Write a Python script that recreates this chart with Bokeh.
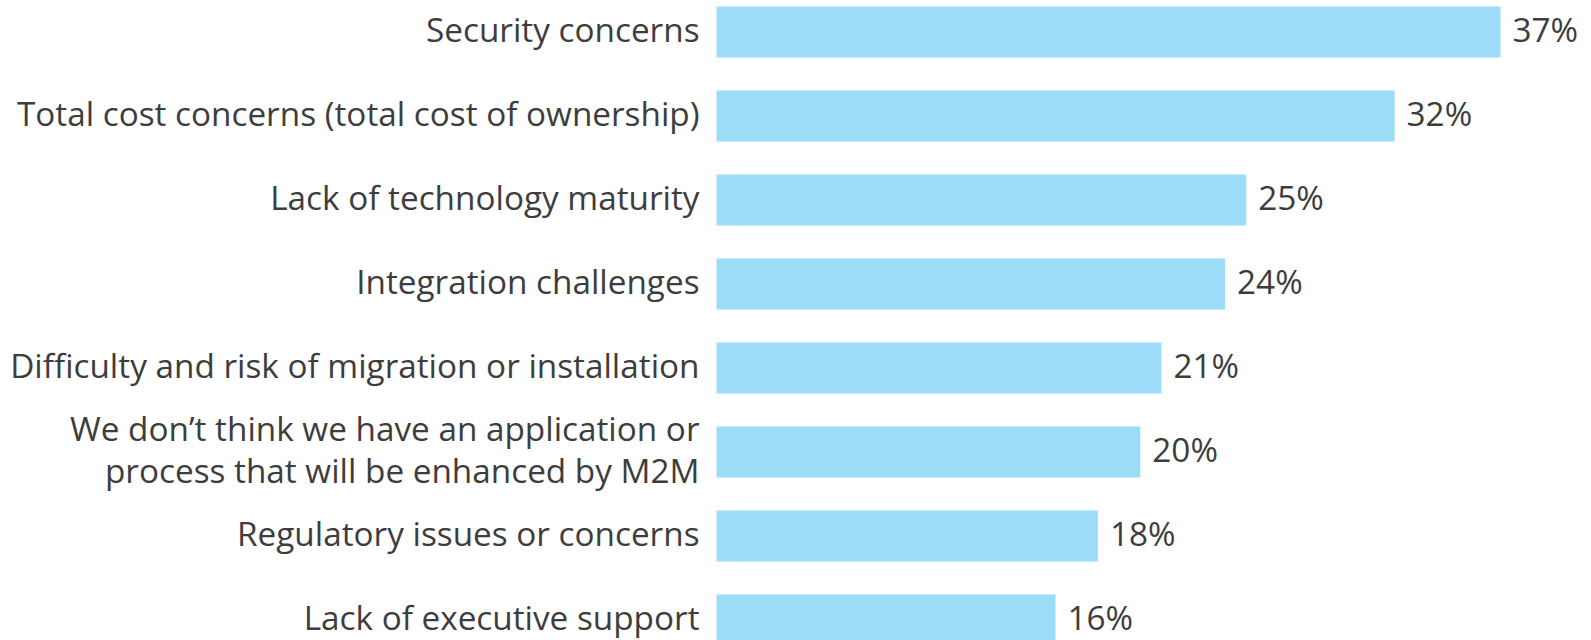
from bokeh.plotting import figure
from bokeh.models import Range1d, ColumnDataSource
from bokeh.core.properties import value
from bokeh.embed import file_html
from bokeh.resources import INLINE

categories = [
    "Security concerns",
    "Total cost concerns (total cost of ownership)",
    "Lack of technology maturity",
    "Integration challenges",
    "Difficulty and risk of migration or installation",
    "We don\u2019t think we have an application or\nprocess that will be enhanced by M2M",
    "Regulatory issues or concerns",
    "Lack of executive support",
]
values = [37, 32, 25, 24, 21, 20, 18, 16]
value_labels = [f"{v}%" for v in values]

W, H = 1591, 640
px_per_pct = 21.19
x0 = -716 / px_per_pct
x1 = x0 + W / px_per_pct
pitch = 84.0
top = -31.5 / pitch
bottom = top + H / pitch

ys = list(range(len(categories)))
src = ColumnDataSource(dict(
    y=ys, v=values, cat=categories, lab=value_labels,
    lx=[-17 / px_per_pct] * len(ys),
    vx=[v + 12 / px_per_pct for v in values],
))

p = figure(width=W, height=H, output_backend="svg", toolbar_location=None,
           x_range=Range1d(x0, x1), y_range=Range1d(bottom, top),
           min_border=0, min_border_left=0, min_border_right=0,
           min_border_top=0, min_border_bottom=0)
p.axis.visible = False
p.grid.visible = False
p.outline_line_color = None
p.background_fill_color = "white"
p.border_fill_color = "white"

p.hbar(y="y", left=0, right="v", height=51 / pitch, source=src,
       fill_color="#9DDCF8", line_color=None)

FONT = "Open Sans"
TC = "#3d3d3d"
p.text(x="lx", y="y", text="cat", source=src, text_align="right",
       text_baseline="middle", text_font=value(FONT), text_font_size="33.3px",
       text_color=TC, text_line_height=0.92, y_offset=-3)
p.text(x="vx", y="y", text="lab", source=src, text_align="left",
       text_baseline="middle", text_font=value(FONT), text_font_size="33.3px",
       text_color=TC, y_offset=-3)

open("out.html", "w").write(file_html(p, INLINE))
